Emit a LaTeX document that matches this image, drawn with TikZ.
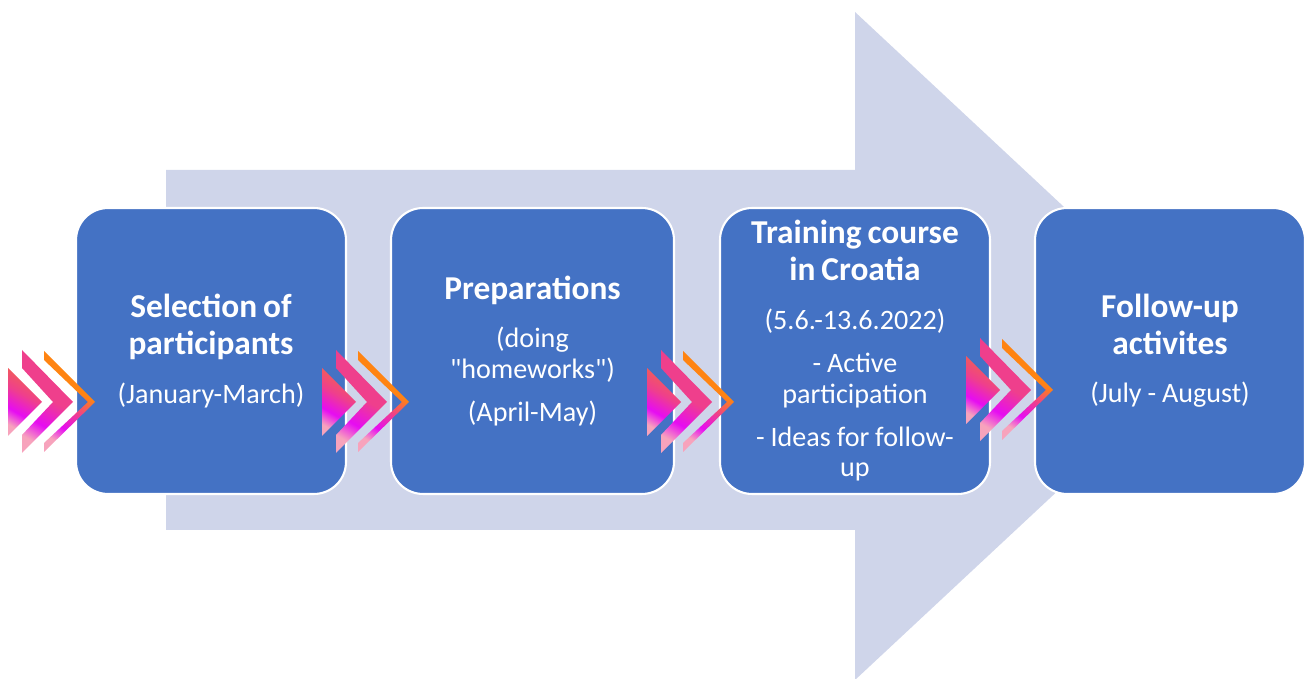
\documentclass[tikz,border=0pt]{standalone}
\usepackage{fontspec}
\setmainfont{Carlito}
\usetikzlibrary{shapes, backgrounds}

\definecolor{arrowbg}{HTML}{CFD5EA}
\definecolor{stepblue}{HTML}{4472C4}
\definecolor{chevlight}{HTML}{F7A3BC}
\definecolor{chevmag}{HTML}{E60CF2}
\definecolor{chevpink}{HTML}{EF3F8C}
\definecolor{chevred}{HTML}{F2654A}
\definecolor{chevorange}{HTML}{FF8412}

% gradients for the three parts of each chevron group
\pgfdeclareverticalshading{trishade}{100bp}{color(0bp)=(chevlight); color(25bp)=(chevlight); color(38bp)=(chevmag); color(55bp)=(chevpink); color(75bp)=(chevred); color(100bp)=(chevred)}
\pgfdeclareverticalshading{chevshade}{100bp}{color(0bp)=(chevlight); color(25bp)=(chevlight); color(36bp)=(chevmag); color(52bp)=(chevpink); color(75bp)=(chevpink); color(100bp)=(chevpink)}
\pgfdeclareverticalshading{thinshade}{100bp}{color(0bp)=(chevlight); color(25bp)=(chevlight); color(34bp)=(chevmag); color(46bp)=(chevpink); color(58bp)=(chevorange); color(100bp)=(chevorange)}

\newcommand{\steptitle}{\fontsize{19}{21}\selectfont\bfseries}
\newcommand{\stepbody}{\fontsize{16}{17.6}\selectfont}

\tikzset{
  stepbox/.style={draw=white, line width=1.2pt, fill=stepblue, rounded corners=0.64cm,
    minimum width=5.4cm, minimum height=5.72cm, text width=5cm, align=center,
    text=white, inner sep=0pt}
}

\begin{document}
\begin{tikzpicture}[x=0.02cm, y=0.02cm]
    \useasboundingbox (0,0) rectangle (1305,679);
    \clip (0,0) rectangle (1305,679);

    % 1. big background arrow
    \fill[arrowbg] (166,509) -- (855,509) -- (855,667) -- (1213,333)
        -- (855,-1) -- (855,149) -- (166,149) -- cycle;

    % 2. the four steps
    \node[stepbox] (select) at (211,328)
        {{\steptitle Selection of\\participants\par}\vspace{10pt}
         {\stepbody (January-March)\par}};
    \node[stepbox, minimum width=5.66cm] (prep) at (532.5,328)
        {{\steptitle Preparations\par}\vspace{10pt}
         {\stepbody (doing\\\textquotedbl homeworks\textquotedbl)\par}\vspace{6.8pt}
         {\stepbody (April-May)\par}};
    \node[stepbox] (course) at (855,328)
        {{\steptitle Training course\\in Croatia\par}\vspace{10pt}
         {\stepbody (5.6.-13.6.2022)\par}\vspace{6.8pt}
         {\stepbody - Active\\participation\par}\vspace{6.8pt}
         {\stepbody - Ideas for follow-\\up\par}};
    \node[stepbox] (follow) at (1170,328)
        {{\steptitle Follow-up\\activites\par}\vspace{10pt}
         {\stepbody (July - August)\par}};

    % 3. chevrons in front of every step
    \foreach \gx/\gy in {8/277, 322/277, 647/277, 966/289} {
      \begin{scope}[shift={(\gx,\gy)}]
        \shade[shading=trishade, shading angle=-30] (0,34) -- (34,0) -- (0,-34) -- cycle;
        \shade[shading=chevshade, shading angle=-30]
            (14,52) -- (65,0) -- (14,-51) -- (14,-33) -- (45,0) -- (14,34) -- cycle;
        \shade[shading=thinshade, shading angle=-30]
            (36,51) -- (87,0) -- (36,-50) -- (36,-41) -- (80,0) -- (36,42) -- cycle;
      \end{scope}
    }
\end{tikzpicture}
\end{document}
